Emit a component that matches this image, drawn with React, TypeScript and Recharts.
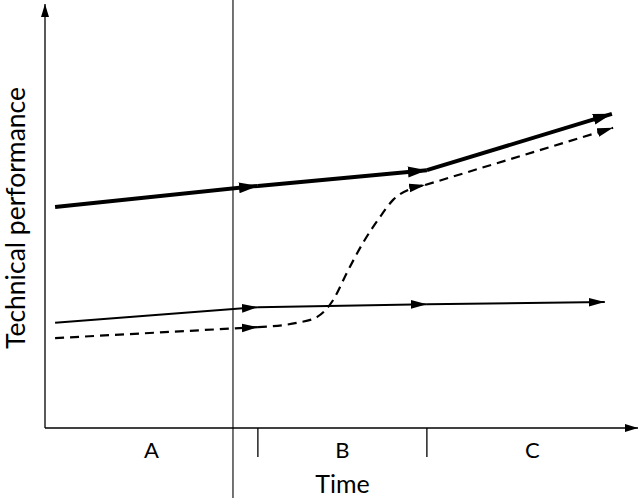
import React from 'react';
import { LineChart, Line, XAxis, YAxis, ReferenceLine } from 'recharts';

// ---- data (time on x, technical performance on y, both arbitrary 0-100 units) ----
const phaseLabels = ['A', 'B', 'C'];
const phaseBounds = [0, 35.9, 64.4, 100];
const presentTime = 31.7;
const xTitle = 'Time';
const yTitle = 'Technical performance';

type Pt = { t: number; v: number; arrow?: boolean };

// thick solid trajectory
const leaderPath: Pt[] = [
  { t: 1.7, v: 52.1 },
  { t: 35.9, v: 57.1, arrow: true },
  { t: 64.4, v: 60.8, arrow: true },
  { t: 95.6, v: 74.1, arrow: true },
];

// thin solid trajectory
const incrementalPath: Pt[] = [
  { t: 1.7, v: 24.8 },
  { t: 35.9, v: 28.5, arrow: true },
  { t: 64.4, v: 29.2, arrow: true },
  { t: 94.4, v: 29.7, arrow: true },
];

// dashed trajectory (S-curve)
const jumpPath: Pt[] = [
  { t: 1.7, v: 21.2 },
  { t: 35.9, v: 23.8, arrow: true },
  { t: 42.5, v: 24.8 },
  { t: 45.9, v: 26.2 },
  { t: 48.6, v: 30.2 },
  { t: 50.9, v: 36.6 },
  { t: 53.6, v: 43.6 },
  { t: 56.5, v: 49.8 },
  { t: 58.7, v: 53.8 },
  { t: 62.1, v: 56.6 },
  { t: 64.1, v: 57.3, arrow: true },
  { t: 95.8, v: 70.8, arrow: true },
];

const splitAtArrows = (pts: Pt[]): Pt[][] => {
  const segs: Pt[][] = [];
  let cur: Pt[] = [pts[0]];
  for (let i = 1; i < pts.length; i++) {
    cur.push(pts[i]);
    if (pts[i].arrow) {
      segs.push(cur);
      cur = [pts[i]];
    }
  }
  if (cur.length > 1) segs.push(cur);
  return segs;
};

const INK = '#000';
const FONT = 'Lato, "DejaVu Sans", sans-serif';

const labelPositions = phaseLabels.map((_, i) => (phaseBounds[i] + phaseBounds[i + 1]) / 2);
const innerBounds = phaseBounds.slice(1, -1);
const xTicks = [...labelPositions, ...innerBounds].sort((a, b) => a - b);

const renderXTick = (props: any) => {
  const { x, y, payload } = props;
  const val = payload.value;
  if (innerBounds.includes(val)) {
    return <line x1={x} y1={y} x2={x} y2={y + 29} stroke={INK} strokeWidth={1.3} />;
  }
  const idx = labelPositions.indexOf(val);
  return (
    <text x={x} y={y + 30} textAnchor="middle" fontFamily={FONT} fontSize={22} fill={INK}>
      {phaseLabels[idx]}
    </text>
  );
};

const YTitle = (props: any) => {
  const vb = props.viewBox || { x: 0, y: 4, width: 45, height: 424 };
  const cx = vb.x + 25;
  const cy = vb.y + vb.height / 2 + 2;
  return (
    <text x={cx} y={cy} transform={`rotate(-90 ${cx} ${cy})`} textAnchor="middle" fontFamily={FONT} fontSize={26.5} fill={INK}>
      {yTitle}
    </text>
  );
};

const XTitle = (props: any) => {
  const vb = props.viewBox || { x: 45, y: 428, width: 593, height: 70 };
  return (
    <text x={vb.x + vb.width / 2 + 1} y={vb.y + 65} textAnchor="middle" fontFamily={FONT} fontSize={25} fill={INK}>
      {xTitle}
    </text>
  );
};

type Style = { width: number; dash?: string; marker: string };
const series: { pts: Pt[]; style: Style }[] = [
  { pts: leaderPath, style: { width: 4, marker: 'url(#arrowThick)' } },
  { pts: incrementalPath, style: { width: 2, marker: 'url(#arrowThin)' } },
  { pts: jumpPath, style: { width: 2.2, dash: '9 6', marker: 'url(#arrowThin)' } },
];

export default function App() {
  return (
    <div style={{ position: 'absolute', left: 0, top: 0, background: '#fff' }}>
      <LineChart width={640} height={498} margin={{ top: 4, right: 2, left: 0, bottom: 0 }}>
        <defs>
          <marker id="arrowThick" markerUnits="userSpaceOnUse" viewBox="0 0 20 12" markerWidth={20} markerHeight={12} refX={19} refY={6} orient="auto">
            <path d="M0,0.5 L19,6 L0,11.5 z" fill={INK} />
          </marker>
          <marker id="arrowThin" markerUnits="userSpaceOnUse" viewBox="0 0 17 10" markerWidth={17} markerHeight={10} refX={16} refY={5} orient="auto">
            <path d="M0,0.6 L16,5 L0,9.4 z" fill={INK} />
          </marker>
          <marker id="axisArrow" markerUnits="userSpaceOnUse" viewBox="0 0 14 9" markerWidth={14} markerHeight={9} refX={13} refY={4.5} orient="auto-start-reverse">
            <path d="M0,0.5 L13,4.5 L0,8.5 z" fill={INK} />
          </marker>
        </defs>
        <XAxis
          type="number"
          dataKey="t"
          domain={[0, 100]}
          ticks={xTicks}
          interval={0}
          tickLine={false}
          tickSize={0}
          tickMargin={0}
          tick={renderXTick}
          height={70}
          axisLine={{ stroke: INK, strokeWidth: 1.3, markerEnd: 'url(#axisArrow)' } as any}
          label={{ content: XTitle } as any}
        />
        <YAxis
          type="number"
          dataKey="v"
          domain={[0, 100]}
          width={45}
          tick={false}
          tickLine={false}
          axisLine={{ stroke: INK, strokeWidth: 1.3, markerStart: 'url(#axisArrow)' } as any}
          label={{ content: YTitle } as any}
        />
        <ReferenceLine
          segment={[{ x: presentTime, y: 101 }, { x: presentTime, y: -16.6 }]}
          ifOverflow="visible"
          stroke={INK}
          strokeWidth={1.1}
        />
        {series.flatMap((s, si) =>
          splitAtArrows(s.pts).map((seg, gi) => (
            <Line
              key={`s${si}-${gi}`}
              data={seg}
              dataKey="v"
              type={seg.length > 2 ? 'monotone' : 'linear'}
              stroke={INK}
              strokeWidth={s.style.width}
              strokeDasharray={s.style.dash}
              markerEnd={s.style.marker}
              dot={false}
              activeDot={false}
              legendType="none"
              isAnimationActive={false}
            />
          ))
        )}
      </LineChart>
    </div>
  );
}
